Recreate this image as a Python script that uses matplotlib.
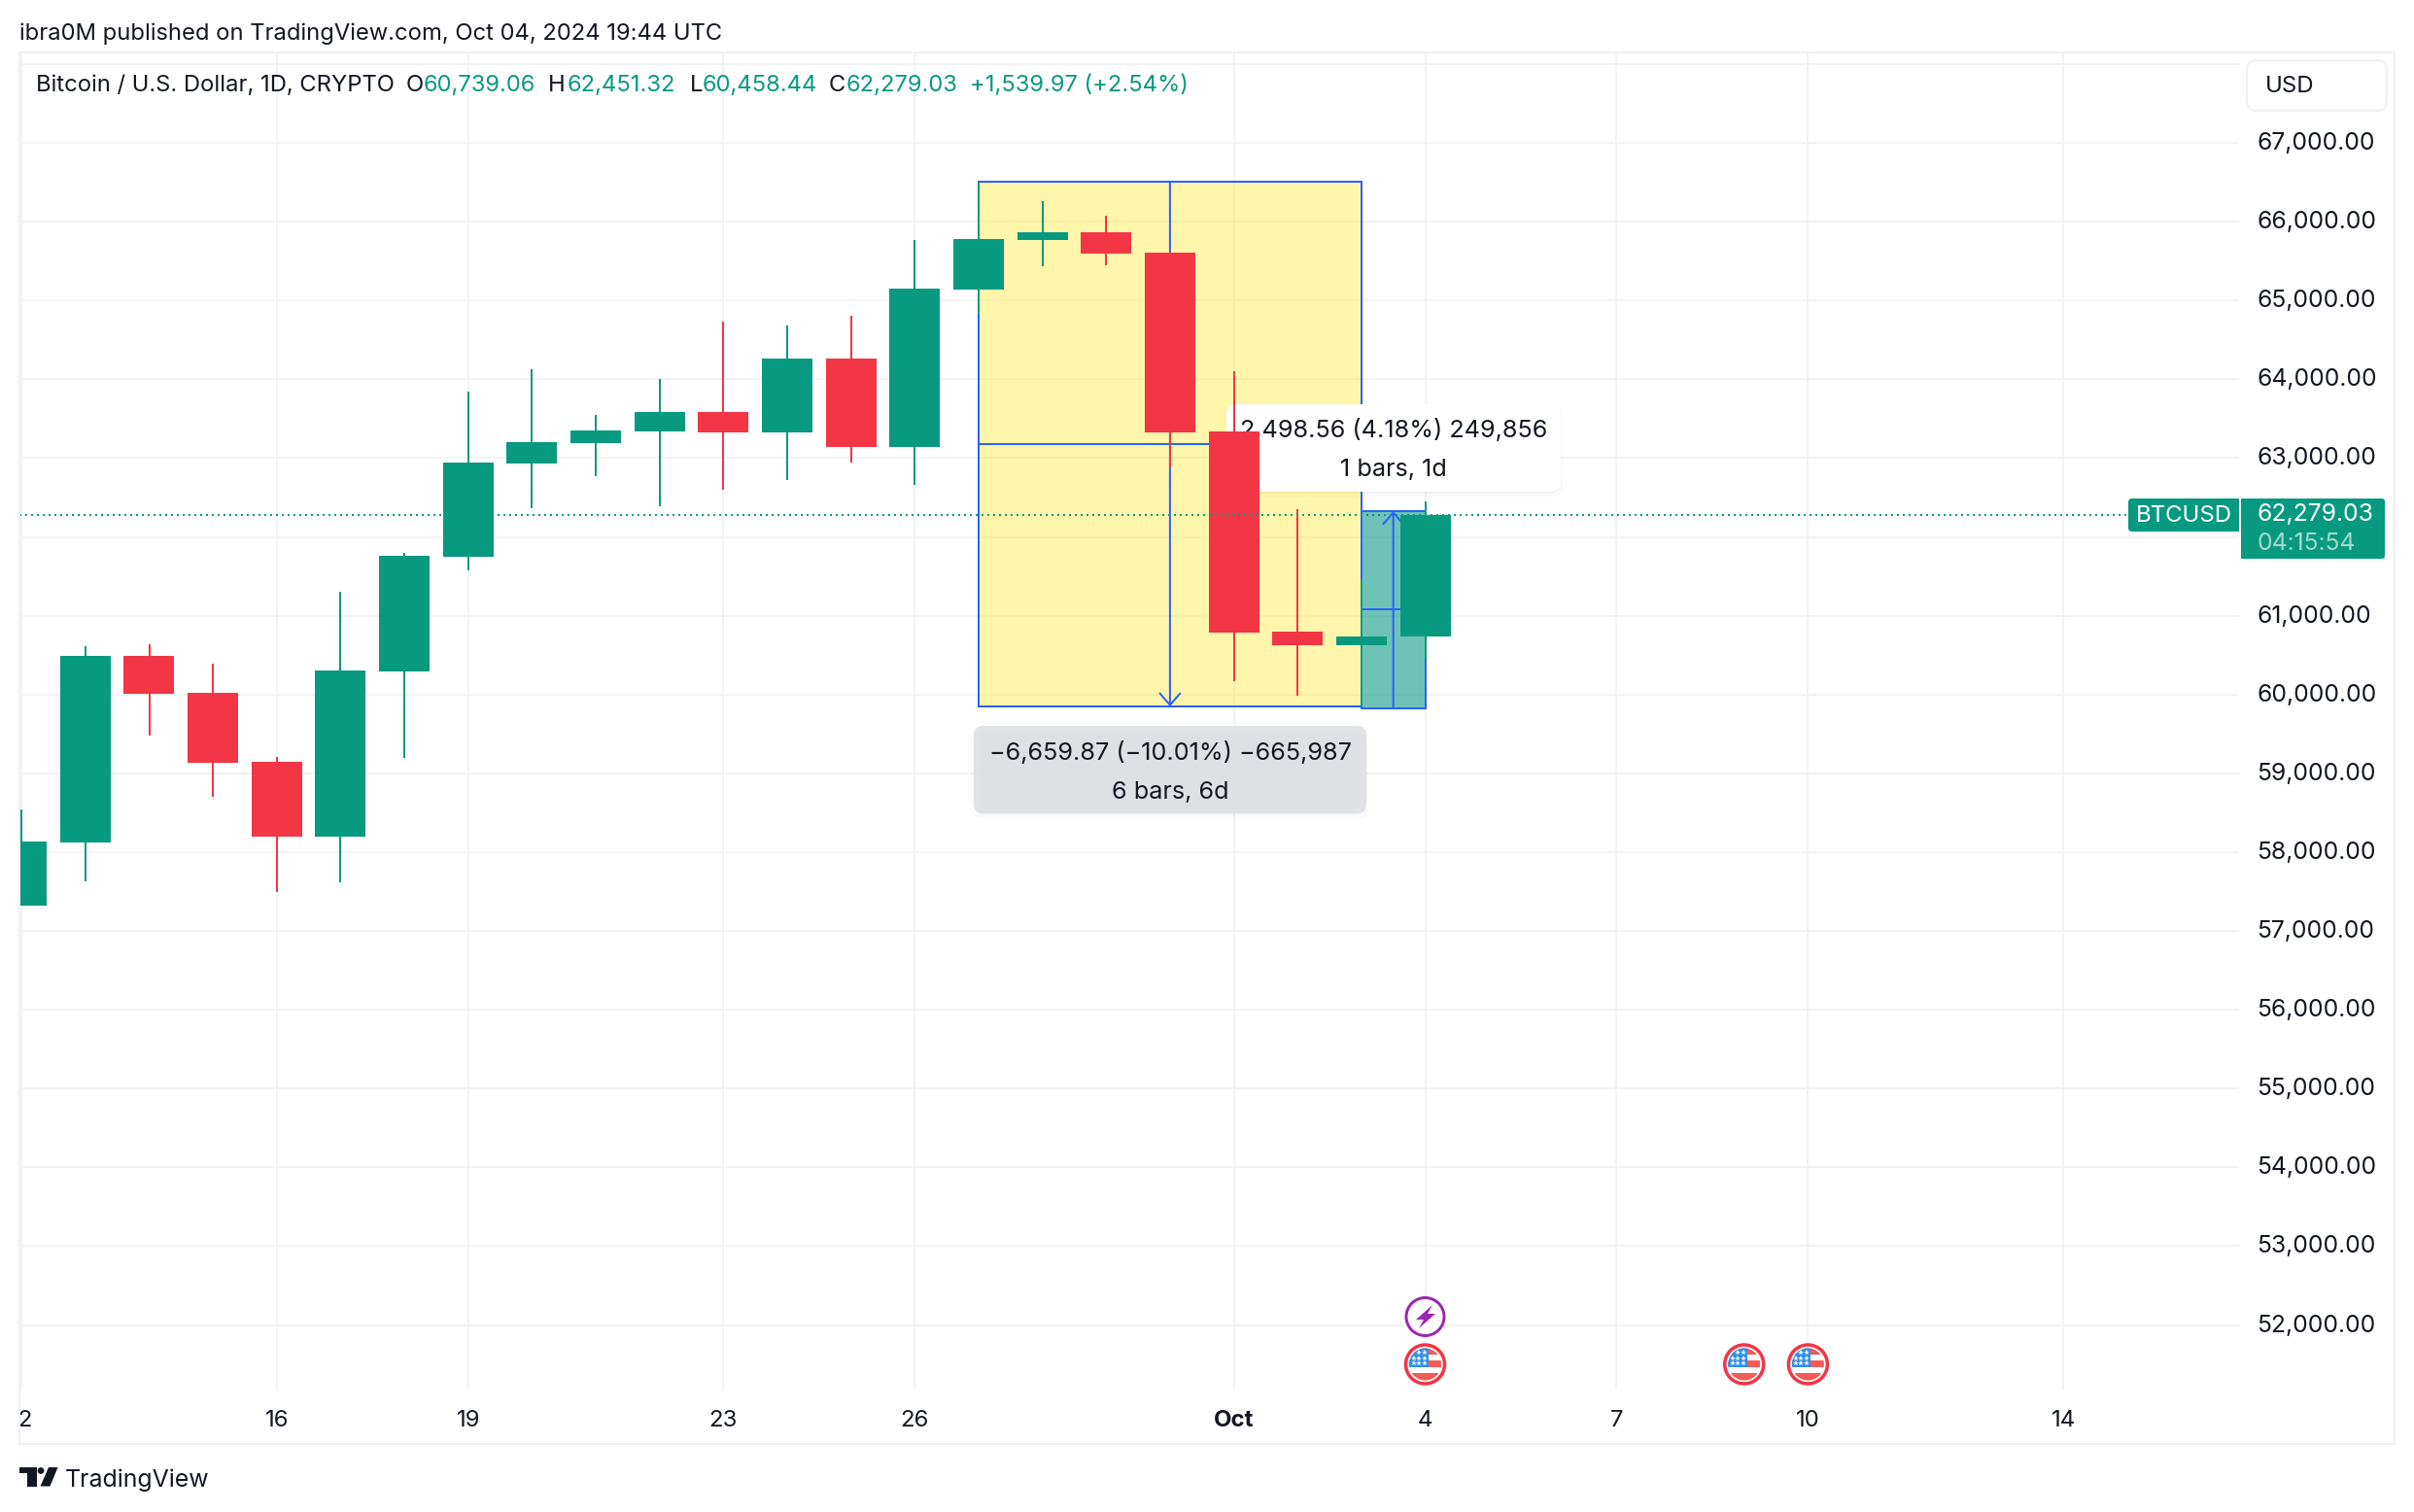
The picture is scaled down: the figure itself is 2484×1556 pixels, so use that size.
import matplotlib
matplotlib.use("Agg")
import matplotlib.pyplot as plt
from matplotlib.patches import Rectangle, FancyBboxPatch, Circle, Polygon
from matplotlib.transforms import Affine2D, ScaledTranslation

plt.rcParams['font.family'] = ['Inter', 'DejaVu Sans']

# Daily candles, Sep 12 to Oct 4 (day number counted from Oct 4)
days = list(range(-22, 1))
opens = [57322, 58124, 60491, 60022, 59147, 58198, 60293, 61749, 62932, 63192, 63339, 63586,
         63327, 64264, 63142, 65140, 65769, 65867, 65608, 63339, 60799, 60626, 60739.06]
highs = [58543, 60614, 60639, 60392, 59210, 61305, 61800, 63845, 64128, 63549, 64005, 64732,
         64683, 64806, 65767, 66508, 66260, 66077, 65630, 64103, 62353, 61465, 62451.32]
lows = [57322, 57630, 59480, 58703, 57495, 57617, 59196, 61576, 62365, 62772, 62390, 62599,
        62722, 62945, 62661, 64830, 65435, 65447, 62883, 60170, 59986, 59849, 60458.44]
closes = [58136, 60491, 60010, 59134, 58198, 60306, 61761, 62945, 63203, 63351, 63586, 63327,
          64264, 63142, 65152, 65781, 65867, 65596, 63327, 60787, 60626, 60738, 62279.03]

# price axis and time axis
price_ticks = list(range(52000, 69000, 1000))
time_days = [-22, -18, -15, -11, -8, -3, 0, 3, 6, 10]
time_labels = ['12', '16', '19', '23', '26', 'Oct', '4', '7', '10', '14']

# price range drawings
drop_days = [-7, -1]
drop_prices = [66509, 59849.13]
rise_days = [-1, 0]
rise_prices = [59829, 62328]
last_price = 62279.03

GREEN = '#089981'
RED = '#f23645'
BLUE = '#2962ff'
INK = '#131722'
GRID = '#f3f3f5'
FRAME = '#eff0f6'

W, H = 2484, 1556
X0 = 1466.5   # pixel of Oct 4
DAY = 65.65   # pixels per day
fig = plt.figure(figsize=(W / 100, H / 100), dpi=100, facecolor='white')

# transform for page furniture, in pixels from the top left
px = Affine2D().scale(1, -1).translate(0, H)


def fs(p):
    return p * 72 / 100


def lw(p):
    return p * 72 / 100


ax = fig.add_axes([20 / W, 1 - 1430 / H, (2304 - 20) / W, (1430 - 54) / H])
ax.set_xlim((20 - X0) / DAY, (2304 - X0) / DAY)
ax.set_ylim(51181, 68148)
for s in ax.spines.values():
    s.set_visible(False)

ax.set_axisbelow(True)
ax.set_xticks(time_days)
ax.set_yticks(price_ticks)
ax.set_yticklabels([f'{p:,.2f}' if p < 68000 else '' for p in price_ticks])
ax.yaxis.tick_right()
ax.tick_params(axis='y', length=0, pad=13.2, labelsize=fs(24.7), labelcolor=INK)
ax.tick_params(axis='x', length=0, labelbottom=False)
ax.grid(True, color=GRID, lw=lw(2))
lift = ScaledTranslation(0, 2 / 72 * 0.72, fig.dpi_scale_trans)
for t in ax.get_yticklabels():
    t.set_transform(t.get_transform() + lift)

# price range boxes
ax.add_patch(Rectangle((drop_days[0], drop_prices[1]), drop_days[1] - drop_days[0],
                       drop_prices[0] - drop_prices[1], facecolor='#ffeb3b', alpha=0.42, lw=0, zorder=1))
ax.add_patch(Rectangle((rise_days[0], rise_prices[0]), rise_days[1] - rise_days[0],
                       rise_prices[1] - rise_prices[0], facecolor=GREEN, alpha=0.58, lw=0, zorder=1.1))
for xs, ys in [(drop_days, drop_prices), (rise_days, rise_prices)]:
    ax.add_patch(Rectangle((xs[0], ys[0]), xs[1] - xs[0], ys[1] - ys[0], fill=False,
                           edgecolor=BLUE, lw=lw(2), zorder=1.5))
    mx, my = sum(xs) / 2, sum(ys) / 2
    ax.plot(xs, [my, my], color=BLUE, lw=lw(2), zorder=1.5, solid_capstyle='butt')
    ax.annotate('', xy=(mx, ys[1]), xytext=(mx, ys[0]), zorder=1.5,
                arrowprops=dict(arrowstyle='->,head_length=0.86,head_width=0.75', color=BLUE,
                                lw=lw(2), shrinkA=0, shrinkB=0, mutation_scale=10))


def tooltip(x0, y0, x1, y1, color, alpha, line1, line2, cx, y_a, y_b):
    for grow, a in [(10, 0.02), (7, 0.03), (4, 0.04), (2, 0.05)]:
        ax.add_patch(FancyBboxPatch((x0 + 8 - grow, y0 + 8 - grow + 3), x1 - x0 - 16 + 2 * grow,
                                    y1 - y0 - 16 + 2 * grow, boxstyle='round,pad=0,rounding_size=10',
                                    facecolor='black', alpha=a, lw=0, transform=px, zorder=1.9))
    ax.add_patch(FancyBboxPatch((x0 + 8, y0 + 8), x1 - x0 - 16, y1 - y0 - 16,
                                boxstyle='round,pad=8,rounding_size=10', facecolor=color, lw=0,
                                alpha=alpha, transform=px, zorder=2))
    ax.text(cx, y_a, line1, transform=px, ha='center', va='center', fontsize=fs(25.2), color=INK, zorder=2.1)
    ax.text(cx, y_b, line2, transform=px, ha='center', va='center', fontsize=fs(25.2), color=INK, zorder=2.1)


tooltip(1262, 416, 1606, 506, 'white', 1, '2,498.56 (4.18%) 249,856', '1 bars, 1d', 1434, 443, 484)
tooltip(1002, 747, 1406, 837, '#e0e1e5', 0.95, '\u22126,659.87 (\u221210.01%) \u2212665,987', '6 bars, 6d',
        1204, 775, 815)

# candles
colors = [GREEN if c >= o else RED for o, c in zip(opens, closes)]
ax.vlines(days, lows, highs, colors=colors, lw=lw(2), zorder=3)
ax.bar(days, [abs(c - o) for o, c in zip(opens, closes)], bottom=[min(o, c) for o, c in zip(opens, closes)],
       width=52 / DAY, color=colors, lw=0, zorder=3.1)

# last price line stops at the symbol label
ax.plot([(20 - X0) / DAY, (2190 - X0) / DAY], [last_price, last_price], color=GREEN, lw=lw(2),
        ls=(0, (1, 2)), zorder=3.5)

# time axis strip, the first label is cut by the left edge
tax = fig.add_axes([20 / W, 1 - 1486 / H, (2304 - 20) / W, 56 / H], sharex=ax)
tax.axis('off')
for d, lab in zip(time_days, time_labels):
    tax.text(d, 0.43, lab, transform=tax.get_xaxis_transform(), ha='center', va='center',
             fontsize=fs(24), color=INK, clip_on=True, fontweight='bold' if lab == 'Oct' else 'normal')

# overlay for everything else
top = fig.add_axes([0, 0, 1, 1], facecolor='none')
top.axis('off')
top.set_xlim(0, W)
top.set_ylim(H, 0)


def box(x0, y0, x1, y1, color, r=0):
    top.add_patch(FancyBboxPatch((x0 + r, y0 + r), x1 - x0 - 2 * r, y1 - y0 - 2 * r,
                                 boxstyle=f'round,pad={r},rounding_size={r}', facecolor=color, lw=0))


top.add_patch(Rectangle((20, 54), 2444, 1432, fill=False, edgecolor=FRAME, lw=lw(2)))

# symbol and price labels
box(2190, 513, 2304, 547, GREEN, 4)
top.add_patch(Rectangle((2290, 513), 14, 34, facecolor=GREEN, lw=0))
box(2306, 513, 2454, 575, GREEN, 3)
top.add_patch(Rectangle((2306, 513), 14, 62, facecolor=GREEN, lw=0))
top.text(2247, 531, 'BTCUSD', ha='center', va='center', fontsize=fs(24), color='white')
top.text(2323, 530, '62,279.03', ha='left', va='center', fontsize=fs(24.7), color='white')
top.text(2323, 559, '04:15:54', ha='left', va='center', fontsize=fs(24.7), color='#a3dace')

# currency button
top.add_patch(FancyBboxPatch((2320, 70), 128, 36, boxstyle='round,pad=8,rounding_size=10',
                             facecolor='white', edgecolor=FRAME, lw=lw(2)))
top.text(2331, 89, 'USD', ha='left', va='center', fontsize=fs(24), color=INK)

# header texts
top.text(20, 34.5, 'ibra0M published on TradingView.com, Oct 04, 2024 19:44 UTC', ha='left', va='center',
         fontsize=fs(23.75), color=INK)
legend_y = 87.5
legend_parts = [(37, 'Bitcoin / U.S. Dollar, 1D, CRYPTO', INK), (418, 'O', INK), (436, '60,739.06', GREEN),
                (564, 'H', INK), (584, '62,451.32', GREEN), (710, 'L', INK), (723, '60,458.44', GREEN),
                (853, 'C', INK), (871, '62,279.03', GREEN), (998, '+1,539.97 (+2.54%)', GREEN)]
for x, t, c in legend_parts:
    top.text(x, legend_y, t, ha='left', va='center', fontsize=fs(23.75), color=c)

# TradingView logo
logo = '#131722'
top.add_patch(Polygon([(20, 1510), (37.5, 1510), (37.5, 1529.5), (27.5, 1529.5), (27.5, 1516), (20, 1516)],
                      facecolor=logo, lw=0))
top.add_patch(Circle((42, 1513.5), 3.4, facecolor=logo, lw=0))
top.add_patch(Polygon([(50, 1510), (59.5, 1510), (51.5, 1529.5), (41.5, 1529.5)], facecolor=logo, lw=0))
top.text(67, 1523, 'TradingView', ha='left', va='center', fontsize=fs(24.9), color=INK)


def flag(cx, cy):
    top.add_patch(Circle((cx, cy), 20, facecolor='white', edgecolor=RED, lw=lw(3.5), zorder=5))
    clip = Circle((cx, cy), 16.5, transform=top.transData)
    for y0, h in [(-17, 7), (-4, 7), (9, 8)]:
        r = Rectangle((cx - 17, cy + y0), 34, h, facecolor='#f55a56', lw=0, zorder=5.1)
        top.add_patch(r)
        r.set_clip_path(clip)
    r = Rectangle((cx - 17, cy - 17), 20, 20, facecolor='#2f8fe8', lw=0, zorder=5.2)
    top.add_patch(r)
    r.set_clip_path(clip)
    star_x = [-12, -7, -1]
    for row, dy in enumerate([-12, -6, -1]):
        for dx in star_x[row == 0:]:
            top.plot(cx + dx, cy + dy, marker='*', ms=4.2, color='white', mew=0, zorder=5.3)


for d in [0, 5, 6]:
    flag(X0 + d * DAY, 1404)

top.add_patch(Circle((X0, 1355), 19.5, facecolor='white', edgecolor='#9c27b0', lw=lw(3), zorder=5))
top.add_patch(Polygon([(1474, 1343), (1457, 1358), (1465, 1358), (1460, 1367), (1477, 1352), (1469, 1352)],
                      facecolor='#9c27b0', lw=0, zorder=5.1))

fig.savefig('out.png', dpi=100)
